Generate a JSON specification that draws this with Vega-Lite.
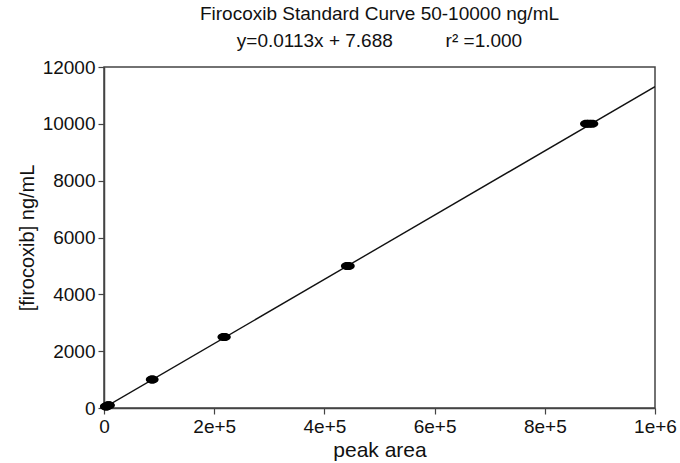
{
  "$schema": "https://vega.github.io/schema/vega-lite/v6.json",
  "autosize": "none",
  "width": 551,
  "height": 341,
  "padding": {"left": 104, "top": 67, "right": 25, "bottom": 55},
  "background": "white",
  "config": {
    "font": "Liberation Sans",
    "view": {"stroke": "#444", "strokeWidth": 1.5},
    "axis": {"grid": false, "labelFlush": false, "domainColor": "#444", "domainWidth": 1.5, "tickColor": "#444", "tickWidth": 1.2, "tickSize": 6, "labelPadding": 3, "labelColor": "#111", "titleColor": "#111", "labelFontSize": 19, "titleFontSize": 20, "titleFontWeight": "normal", "labelFont": "Liberation Sans", "titleFont": "Liberation Sans"}
  },
  "title": {
    "text": "Firocoxib Standard Curve 50-10000 ng/mL\u00a0\u00a0\u00a0\u00a0\u00a0",
    "subtitle": "y=0.0113x + 7.688\u00a0\u00a0\u00a0\u00a0\u00a0\u00a0\u00a0\u00a0\u00a0\u00a0r\u00b2\u00a0=1.000\u00a0\u00a0",
    "anchor": "middle",
    "fontSize": 19,
    "fontWeight": "normal",
    "color": "#111",
    "subtitleFontSize": 19,
    "subtitleColor": "#111",
    "subtitlePadding": 8,
    "offset": 7,
    "font": "Liberation Sans",
    "subtitleFont": "Liberation Sans"
  },
  "datasets": {
    "std": [
      {"area": 3700, "conc": 50},
      {"area": 4100, "conc": 50},
      {"area": 8000, "conc": 100},
      {"area": 8500, "conc": 100},
      {"area": 87000, "conc": 1000},
      {"area": 88000, "conc": 1000},
      {"area": 217000, "conc": 2500},
      {"area": 219000, "conc": 2500},
      {"area": 441000, "conc": 5000},
      {"area": 444000, "conc": 5000},
      {"area": 875000, "conc": 10000},
      {"area": 880000, "conc": 10000},
      {"area": 886000, "conc": 10000}
    ],
    "fit": [
      {"area": 0, "conc": 7.688},
      {"area": 1000000, "conc": 11307.688}
    ]
  },
  "layer": [
    {
      "data": {"name": "fit"},
      "mark": {"type": "line", "color": "#111", "strokeWidth": 1.4, "clip": true},
      "encoding": {
        "x": {"field": "area", "type": "quantitative", "scale": {"domain": [0, 1000000], "nice": false}, "axis": {"values": [0, 200000, 400000, 600000, 800000, 1000000], "labelExpr": "datum.value == 0 ? '0' : format(datum.value, '.0e')", "title": "peak area", "titlePadding": 3, "titleFontSize": 21}},
        "y": {"field": "conc", "type": "quantitative", "scale": {"domain": [0, 12000], "nice": false}, "axis": {"values": [0, 2000, 4000, 6000, 8000, 10000, 12000], "format": "d", "title": "[firocoxib] ng/mL", "titlePadding": 5}}
      }
    },
    {
      "data": {"name": "std"},
      "mark": {"type": "point", "filled": true, "opacity": 1, "color": "#000", "size": 150, "shape": "M-1,0A1,0.65,0,1,1,1,0A1,0.65,0,1,1,-1,0Z", "clip": false},
      "encoding": {
        "x": {"field": "area", "type": "quantitative"},
        "y": {"field": "conc", "type": "quantitative"}
      }
    }
  ]
}
